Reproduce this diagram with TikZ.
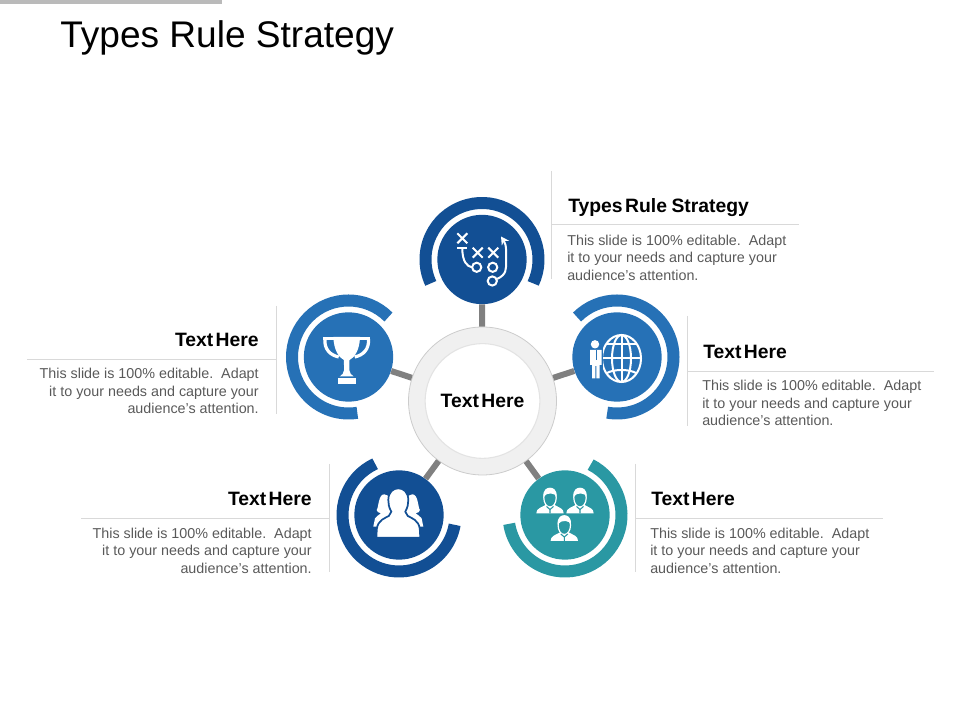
\documentclass[tikz,border=0pt]{standalone}
\usepackage{fontspec}
\setmainfont{Liberation Sans}
\newfontfamily\headfont{Liberation Sans}[WordSpace=0.45]
\usetikzlibrary{arrows.meta}

\definecolor{darkband}{HTML}{124F94}
\definecolor{midband}{HTML}{2671B6}
\definecolor{tealband}{HTML}{2A98A3}
\definecolor{rulegrey}{HTML}{D9D9D9}
\definecolor{spokegrey}{HTML}{808080}
\definecolor{bodygrey}{HTML}{595959}

\tikzset{
    x=0.75pt, y=0.75pt,
    disc/.style={circle, fill=#1, minimum size=67pt, inner sep=0pt},
    bandarc/.style={line width=9pt},
    spoke/.style={spokegrey, line width=4.5pt},
    hubring/.style={circle, draw=black!20, line width=0.6pt, fill=black!6, minimum size=111pt, inner sep=0pt},
    hubcore/.style={circle, draw=black!11, line width=0.8pt, fill=white, minimum size=86pt, inner sep=0pt, font=\headfont\bfseries\fontsize{14.5pt}{16pt}\selectfont},
    panelrule/.style={rulegrey, line width=0.6pt},
    headtext/.style={inner sep=0pt, font=\headfont\bfseries\fontsize{14.5pt}{16pt}\selectfont},
    bodytext/.style={inner sep=0pt, bodygrey, align=#1, font=\fontsize{10.75pt}{13.2pt}\selectfont},
    iconline/.style={white, line width=1.5pt},
    pics/playicon/.style={code={
        \foreach \px/\py in {-19.7/21.2, -4.3/6.8, 11.3/6.8}
            \draw[iconline] (\px-5,\py-5) -- (\px+5,\py+5) (\px-5,\py+5) -- (\px+5,\py-5);
        \draw[iconline] (-24.7,11.2) -- (-14.7,11.2);
        \draw[iconline] (-19.7,11.2) .. controls (-19.7,-2) and (-15,-7) .. (-10,-7.8);
        \foreach \px/\py in {-5.3/-7.8, 10.7/-7.8, 10.3/-21.5}
            \draw[iconline] (\px,\py) circle (4.6);
        \draw[iconline, -{Stealth[length=6pt,width=6.5pt]}] (15,-19.5) .. controls (25,-15) and (24,-9) .. (24,-3)
            .. controls (24,6) and (25,14) .. (19,23);
    }},
    pics/cupicon/.style={code={
        \fill[white] (-23.3,20.3) rectangle (23.3,17.2);
        \draw[white, line width=2.4pt] (-21.8,18) .. controls (-22.5,8) and (-17,2) .. (-8,0);
        \draw[white, line width=2.4pt] (21.8,18) .. controls (22.5,8) and (17,2) .. (8,0);
        \fill[white] (-13.3,20) .. controls (-13,6) and (-7,-1) .. (-2.8,-3) -- (-2.6,-13) .. controls (-2.8,-16) and (-4.5,-18) .. (-7,-19.5)
            -- (7,-19.5) .. controls (4.5,-18) and (2.8,-16) .. (2.6,-13) -- (2.8,-3) .. controls (7,-1) and (13,6) .. (13.3,20) -- cycle;
        \fill[white] (-8.8,-20.7) rectangle (8.8,-27);
    }},
    pics/globeicon/.style={code={
        \draw[iconline] (4.5,-1.5) ellipse (19.5 and 23.5);
        \draw[iconline] (4.5,-1.5) ellipse (9.5 and 23.5);
        \draw[iconline] (4.5,-25) -- (4.5,22);
        \draw[iconline] (-15,-1.5) -- (24,-1.5);
        \draw[iconline] (-11,12.5) -- (20,12.5);
        \draw[iconline] (-10,-16) .. controls (-3,-12) and (12,-12) .. (19,-16);
        \fill[midband] (-29,-26) rectangle (-14,9);
        \fill[white] (-22,12.7) circle (4.2);
        \fill[white] (-27,7) -- (-15.5,7) -- (-15.5,-8) -- (-17.5,-8) -- (-17.5,-21.3) -- (-20.6,-21.3) -- (-20.6,-9) -- (-21.6,-9)
            -- (-21.6,-21.3) -- (-24.8,-21.3) -- (-24.8,-8) -- (-27,-8) -- cycle;
        \draw[midband, line width=0.7pt] (-21,7) -- (-21,-3);
    }},
    pics/crowdicon/.style={code={
        \foreach \sx in {-1,1}
            \fill[white] (\sx*25,-11.7) -- (\sx*23.3,-3.3) .. controls (\sx*22,-1) and (\sx*19,0) .. (\sx*17.3,1.7)
                .. controls (\sx*20,2) and (\sx*21.5,3.5) .. (\sx*21.6,5) .. controls (\sx*19.5,8) and (\sx*20,20.7) .. (\sx*14,20.7)
                .. controls (\sx*8,20.7) and (\sx*6,12) .. (\sx*6,5) -- (\sx*6,-11.7) -- cycle;
        \filldraw[white, draw=darkband, line width=1.3pt] (-22,-22.7) -- (-21.5,-14)
            .. controls (-20.5,-5) and (-13,-3) .. (-9.5,-1) -- (-7,3.3) .. controls (-9.5,8) and (-10,11) .. (-10,15)
            .. controls (-10,23) and (-5,26.7) .. (0,26.7) .. controls (5,26.7) and (10,23) .. (10,15)
            .. controls (10,11) and (9.5,8) .. (7,3.3) -- (9.5,-1) .. controls (13,-3) and (20.5,-5) .. (21.5,-14) -- (22,-22.7) -- cycle;
        \fill[darkband] (-25,-23.4) rectangle (25,-28);
    }},
    pics/suiticon/.style={code={
        \fill[white] (-13.7,-13.4) .. controls (-13.7,-8.5) and (-9,-7.5) .. (-4.5,-5) -- (4.5,-5) .. controls (9,-7.5) and (13.7,-8.5) .. (13.7,-13.4) -- cycle;
        \filldraw[tealband, draw=white, line width=0.9pt] (0,2.2) ellipse (6.2 and 9.2);
        \fill[white] (-6.6,3) .. controls (-7.2,10.5) and (-3,12.3) .. (0,12.3) .. controls (3,12.3) and (7.2,10.5) .. (6.6,3)
            .. controls (5.5,7) and (-3,8.5) .. (-6.6,3) -- cycle;
        \draw[tealband, line width=0.8pt] (-3.5,-6.5) -- (0,-9.5) -- (3.5,-6.5) (0,-9.5) -- (0,-13.4);
    }},
}

\begin{document}
\begin{tikzpicture}
    \useasboundingbox (0,0) rectangle (960,720);

    % top strip and title
    \fill[black!27] (0,716) rectangle (222,720);
    \node[anchor=west, inner sep=0pt, font=\fontsize{27.8pt}{30pt}\selectfont] (title) at (60,682.5) {Types Rule Strategy};

    % discs and hub
    \node[hubring] (hub) at (482.5,319) {};
    \node[hubcore] (hubtext) at (482.5,319) {Text Here};
    \node[disc=darkband] (playdisc) at (482,460.5) {};
    \node[disc=midband] (cupdisc) at (348.5,363) {};
    \node[disc=midband] (globedisc) at (617,363) {};
    \node[disc=darkband] (crowddisc) at (399,205) {};
    \node[disc=tealband] (suitdisc) at (565,205) {};

    \foreach \disc in {playdisc, cupdisc, globedisc, crowddisc, suitdisc}
        \draw[spoke] (hub) -- (\disc);

    % bands round the discs
    \foreach \disc/\from/\to/\col in {playdisc/-25/205/darkband, cupdisc/45/279/midband, globedisc/135/-100/midband, crowddisc/115/350/darkband, suitdisc/63/-171/tealband}
        \draw[bandarc, draw=\col] (\disc.center) ++(\from:56.5) arc[start angle=\from, end angle=\to, radius=56.5];

    % icons
    \pic at (playdisc.center) {playicon};
    \pic at (346.7,363) {cupicon};
    \pic at (globedisc.center) {globeicon};
    \pic at (398.3,205) {crowdicon};
    \pic at (550,220) {suiticon};
    \pic at (580,220) {suiticon};
    \pic at (564.3,192.5) {suiticon};

    % panels
    \draw[panelrule] (551,549) -- (551,441) (551,496) -- (799,496);
    \node[headtext, anchor=west] (playhead) at (568,512) {Types Rule\hspace{1.6pt} Strategy};
    \node[bodytext=left, anchor=north west] (playbody) at (567,485.5) {This slide is 100\% editable.\ \ Adapt\\it to your needs and capture your\\audience's attention.};

    \draw[panelrule] (687,404) -- (687,294) (687,349) -- (934,349);
    \node[headtext, anchor=west] (globehead) at (703,368) {Text Here};
    \node[bodytext=left, anchor=north west] (globebody) at (702,340) {This slide is 100\% editable.\ \ Adapt\\it to your needs and capture your\\audience's attention.};

    \draw[panelrule] (635,256) -- (635,148) (635,202) -- (883,202);
    \node[headtext, anchor=west] (suithead) at (651,221) {Text Here};
    \node[bodytext=left, anchor=north west] (suitbody) at (650,192.5) {This slide is 100\% editable.\ \ Adapt\\it to your needs and capture your\\audience's attention.};

    \draw[panelrule] (276,414) -- (276,306) (276,361) -- (27,361);
    \node[headtext, anchor=east] (cuphead) at (259,380) {Text Here};
    \node[bodytext=right, anchor=north east] (cupbody) at (259,352) {This slide is 100\% editable.\ \ Adapt\\it to your needs and capture your\\audience's attention.};

    \draw[panelrule] (329,256) -- (329,148) (329,202) -- (81,202);
    \node[headtext, anchor=east] (crowdhead) at (312,221) {Text Here};
    \node[bodytext=right, anchor=north east] (crowdbody) at (312,192.5) {This slide is 100\% editable.\ \ Adapt\\it to your needs and capture your\\audience's attention.};
\end{tikzpicture}
\end{document}
